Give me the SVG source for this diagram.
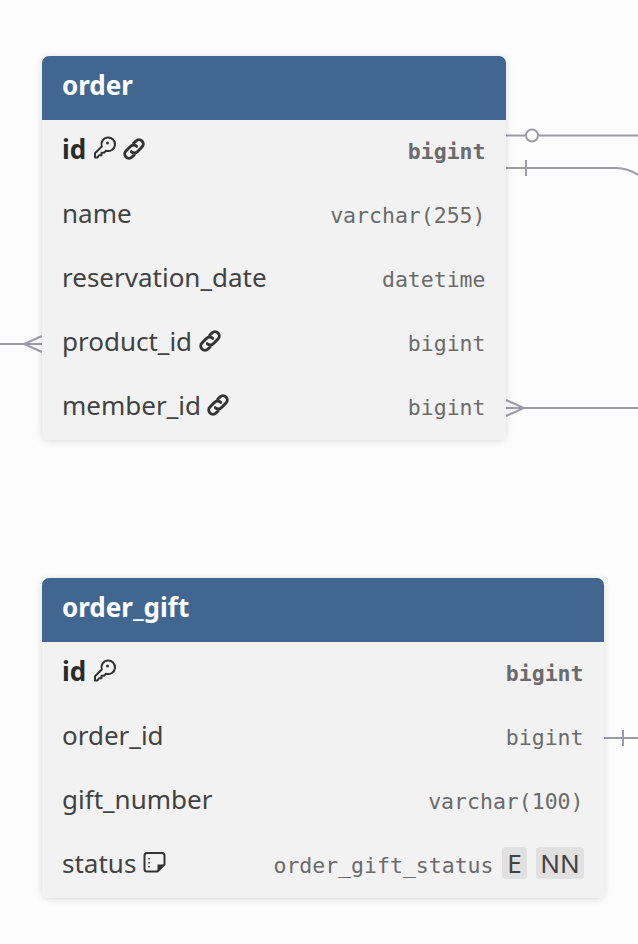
<svg xmlns="http://www.w3.org/2000/svg" width="638" height="944" viewBox="0 0 638 944">
<style>
.bg{fill:#fcfcfc}
.card{fill:#f2f2f2;filter:url(#sh)}
.head{fill:#416791}
.title{font:700 26px "Noto Sans","Open Sans",sans-serif;fill:#fff}
.n{font:400 26px "Noto Sans","Open Sans",sans-serif;fill:#424242}
.nb{font:700 26px "Noto Sans","Open Sans",sans-serif;fill:#2b2b2b}
.t{font:400 21.5px "DejaVu Sans Mono","Liberation Mono",monospace;fill:#6b6b6b;text-anchor:end}
.tb{font:700 21.5px "DejaVu Sans Mono","Liberation Mono",monospace;fill:#6b6b6b;text-anchor:end}
.line{fill:none;stroke:#9c9ca6;stroke-width:2}
.ico{fill:none;stroke:#333;stroke-width:2;stroke-linecap:round;stroke-linejoin:round}
.link{fill:none;stroke:#333;stroke-width:2.500;stroke-linecap:round;stroke-linejoin:round}
.badge{fill:#e0e0e0}
.bt{font:400 26px "Noto Sans","Open Sans",sans-serif;fill:#424242;text-anchor:middle}
</style>
<defs>
<filter id="sh" x="-10%" y="-10%" width="120%" height="120%"><feDropShadow dx="0" dy="1" stdDeviation="3.5" flood-color="#000" flood-opacity=".14"/></filter>
<g id="key"><path class="ico" d="M3 20.500v-4.200l6.800-6.800a6.800 6.800 0 1 1 4.200 4.200l-2 2h-2.500v2.500h-2.500l-1.500 2.300z"/><circle cx="15.500" cy="6" r="1.500" fill="#333"/></g>
<g id="lnk"><path class="link" transform="rotate(-45) scale(1.180)" d="M3.200 0A3.600 3.600 0 0 0-.4-3.600H-6A3.600 3.600 0 0 0-6 3.600H-3.200M-3.200 0A3.600 3.600 0 0 0 .4 3.600H6A3.600 3.600 0 0 0 6-3.600H3.200"/></g>
</defs>
<rect class="bg" width="638" height="944"/>
<g id="connectors">
<path class="line" d="M506 135.500H638"/>
<circle cx="532" cy="135.500" r="6" fill="#fcfcfc" stroke="#9c9ca6" stroke-width="2"/>
<path class="line" d="M506 168H616Q628 168 638 175M526 160V176"/>
<path class="line" d="M0 344H42M42 336L24 344L42 352"/>
<path class="line" d="M506 408H638M506 400L524 408L506 416"/>
<path class="line" d="M604 738H638M623 730V746"/>
</g>
<g id="order">
<rect class="card" x="42" y="56" width="464" height="384" rx="7"/>
<path class="head" d="M42 120V63a7 7 0 0 1 7-7H499a7 7 0 0 1 7 7V120z"/>
<text class="title" x="62" y="95">order</text>
<text class="nb" x="62" y="158.500">id</text>
<use href="#key" x="92" y="137"/>
<use href="#lnk" x="134" y="149"/>
<text class="tb" x="485.500" y="159">bigint</text>
<text class="n" x="62" y="223">name</text>
<text class="t" x="485.500" y="222.500">varchar(255)</text>
<text class="n" x="62" y="287">reservation_date</text>
<text class="t" x="485.500" y="286.500">datetime</text>
<text class="n" x="62" y="351">product_id</text>
<use href="#lnk" x="210" y="341"/>
<text class="t" x="485.500" y="350.500">bigint</text>
<text class="n" x="62" y="415">member_id</text>
<use href="#lnk" x="218" y="405"/>
<text class="t" x="485.500" y="414.500">bigint</text>
</g>
<g id="order_gift">
<rect class="card" x="42" y="578" width="562" height="320" rx="7"/>
<path class="head" d="M42 642V585a7 7 0 0 1 7-7H597a7 7 0 0 1 7 7V642z"/>
<text class="title" x="62" y="617">order_gift</text>
<text class="nb" x="62" y="681">id</text>
<use href="#key" x="92" y="660"/>
<text class="tb" x="583.500" y="681">bigint</text>
<text class="n" x="62" y="745">order_id</text>
<text class="t" x="583.500" y="744.500">bigint</text>
<text class="n" x="62" y="809">gift_number</text>
<text class="t" x="583.500" y="808.500">varchar(100)</text>
<text class="n" x="62" y="873">status</text>
<path class="ico" d="M147 853h15a2.500 2.500 0 0 1 2.500 2.500v9l-7 7h-10.500a2.500 2.500 0 0 1-2.500-2.500v-13.500a2.500 2.500 0 0 1 2.500-2.500z"/>
<path d="M164.500 864.500l-7 7v-7z" fill="#333"/>
<path d="M149 858v10" stroke="#333" stroke-width="1.500" stroke-dasharray="1.500 2.500" fill="none"/>
<text class="t" x="493.500" y="872.500">order_gift_status</text>
<rect class="badge" x="502" y="847" width="25" height="32" rx="4"/>
<text class="bt" x="514.500" y="873">E</text>
<rect class="badge" x="536" y="847" width="48" height="32" rx="4"/>
<text class="bt" x="560" y="873">NN</text>
</g>
</svg>
